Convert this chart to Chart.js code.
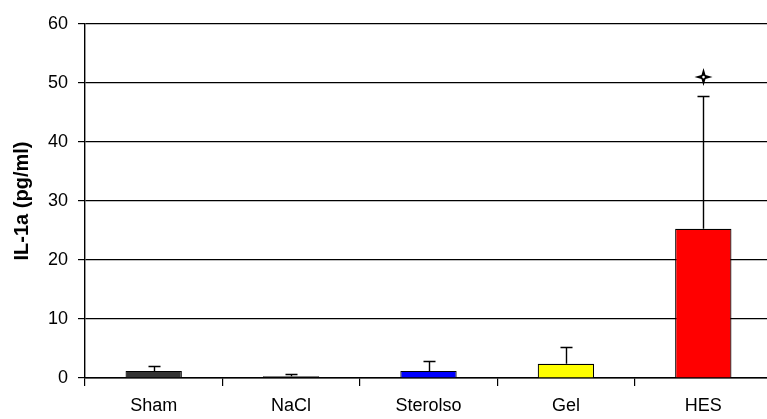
<!DOCTYPE html>
<html>
<head>
<meta charset="utf-8">
<script src="https://cdn.jsdelivr.net/npm/chart.js@4"></script>
<style>
html, body { margin: 0; padding: 0; overflow: hidden; background: #fff; }
#wrap { width: 772px; height: 419px; position: relative; }
</style>
</head>
<body>
<div id="wrap"><canvas id="chart"></canvas></div>
<script>
// groups and values
var groups = ["Sham", "NaCl", "Sterolso", "Gel", "HES"];
var means = [1.2, 0.3, 1.2, 2.4, 25.3];
var errTop = [2.0, 0.6, 2.9, 5.2, 47.8];
var starValue = [null, null, null, null, 51];
var yTicks = [0, 10, 20, 30, 40, 50, 60];

var barColors = ["#333333", "#000000", "#0000ff", "#ffff00", "#ff0000"];

var errorBars = {
	id: "errorBars",
	afterDatasetsDraw: function(chart) {
		var ctx = chart.ctx;
		var meta = chart.getDatasetMeta(0);
		var y = chart.scales.y;
		ctx.save();
		ctx.strokeStyle = "#000";
		ctx.lineWidth = 1.4;
		for (var i = 0; i < meta.data.length; i++) {
			var bar = meta.data[i];
			var x = Math.round(bar.x) + 0.5;
			var y0 = y.getPixelForValue(means[i]);
			var y1 = Math.round(y.getPixelForValue(errTop[i])) + 0.5;
			ctx.beginPath();
			ctx.moveTo(x, y0);
			ctx.lineTo(x, y1);
			ctx.moveTo(x - 6, y1);
			ctx.lineTo(x + 6, y1);
			ctx.stroke();

			if (starValue[i] != null) {
				var sy = y.getPixelForValue(starValue[i]);
				var r = 9, k = 2;
				ctx.beginPath();
				ctx.moveTo(x, sy - r);
				ctx.lineTo(x + k, sy - k);
				ctx.lineTo(x + r, sy);
				ctx.lineTo(x + k, sy + k);
				ctx.lineTo(x, sy + r);
				ctx.lineTo(x - k, sy + k);
				ctx.lineTo(x - r, sy);
				ctx.lineTo(x - k, sy - k);
				ctx.closePath();
				ctx.fillStyle = "#000";
				ctx.fill();
				ctx.beginPath();
				ctx.arc(x, sy, 1.3, 0, Math.PI * 2);
				ctx.fillStyle = "#fff";
				ctx.fill();
			}
		}
		ctx.restore();
	}
};

var chartdata = {
	labels: groups,
	datasets: [
		{
			data: means,
			backgroundColor: barColors,
			borderColor: "#000",
			borderWidth: 1.2,
			barPercentage: 0.41,
			categoryPercentage: 1.0
		}
	]
};

var options = {
	responsive: true,
	maintainAspectRatio: false,
	animation: false,
	layout: {
		padding: { top: 24, left: 8, right: 0, bottom: 0 }
	},
	plugins: {
		legend: { display: false },
		tooltip: { enabled: false }
	},
	scales: {
		x: {
			afterFit: function(scale) { scale.height = 41; },
			grid: {
				offset: true,
				drawOnChartArea: false,
				drawTicks: true,
				tickLength: 8,
				color: "#000",
				lineWidth: 1.2
			},
			border: { color: "#000", width: 1.4 },
			ticks: {
				color: "#000",
				padding: 9,
				font: { family: "Liberation Sans, Arial, sans-serif", size: 18 }
			}
		},
		y: {
			min: 0,
			max: 60,
			afterBuildTicks: function(scale) {
				scale.ticks = yTicks.map(function(v) { return { value: v }; });
			},
			afterFit: function(scale) { scale.width = 77; },
			grid: {
				color: "#000",
				lineWidth: 1.2,
				tickLength: 7
			},
			border: { color: "#000", width: 1.4 },
			ticks: {
				color: "#000",
				padding: 10,
				font: { family: "Liberation Sans, Arial, sans-serif", size: 18 }
			},
			title: {
				display: true,
				text: "IL-1a (pg/ml)",
				color: "#000",
				padding: { top: 2, bottom: 4 },
				font: { family: "Liberation Sans, Arial, sans-serif", size: 20, weight: "bold" }
			}
		}
	}
};

var ctx = document.getElementById("chart");
var barGraph = new Chart(ctx, {
	type: "bar",
	data: chartdata,
	options: options,
	plugins: [errorBars]
});
</script>
</body>
</html>
